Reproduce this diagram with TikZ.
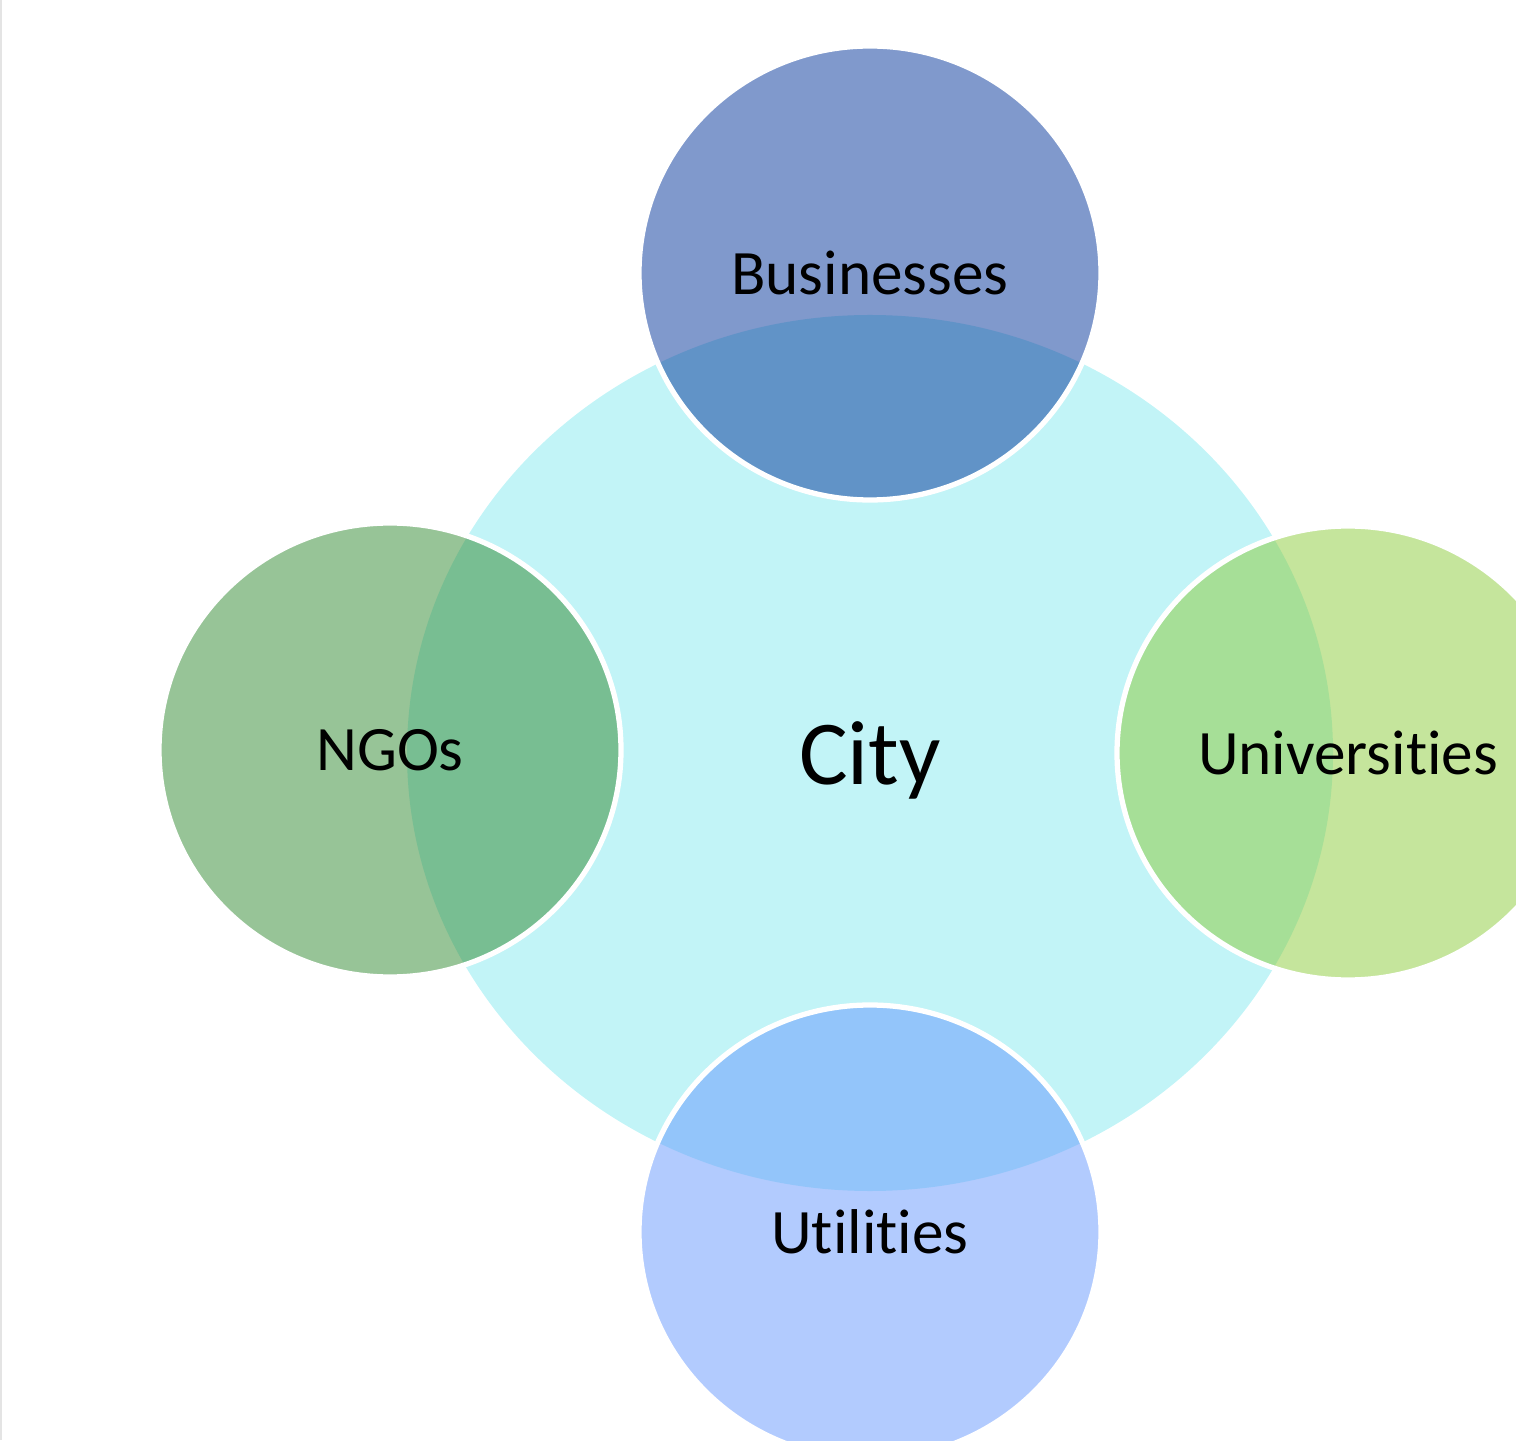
\documentclass[tikz,border=0pt]{standalone}
\usepackage{fontspec}
\setmainfont{Carlito}[Ligatures=NoCommon]
\usetikzlibrary{shapes.geometric}
\definecolor{cityblue}{RGB}{194,244,247}
\definecolor{bizblue}{RGB}{1,51,153}
\definecolor{ngogreen}{RGB}{47,137,47}
\definecolor{unigreen}{RGB}{139,203,57}
\definecolor{utilblue}{RGB}{101,151,253}
\definecolor{edgegray}{RGB}{228,228,228}
\tikzset{
  hub/.style={ellipse, fill=cityblue, minimum width=9.26cm, minimum height=8.76cm,
    inner sep=0pt, font=\fontsize{26}{30}\selectfont, text depth=0pt},
  partner/.style={ellipse, draw=white, line width=1.5pt, fill opacity=0.5, text opacity=1,
    minimum width=4.62cm, minimum height=4.54cm, inner sep=0pt,
    font=\fontsize{18}{22}\selectfont, text depth=0pt}
}
\begin{document}
\begin{tikzpicture}
\useasboundingbox (0,0) rectangle (15.16,14.4);
\clip (0,0) rectangle (15.16,14.4);
\fill[edgegray] (0,0) rectangle (0.025,14.4);

\node[hub] (city) at (8.70,6.87) {City};

\node[partner, fill=bizblue] (biz) at (8.70,11.67) {Businesses};
\node[partner, fill=ngogreen] (ngo) at (3.90,6.90) {NGOs};
\node[partner, fill=unigreen] (uni) at (13.48,6.87) {Universities};
\node[partner, fill=utilblue] (util) at (8.70,2.08) {Utilities};
\end{tikzpicture}
\end{document}
